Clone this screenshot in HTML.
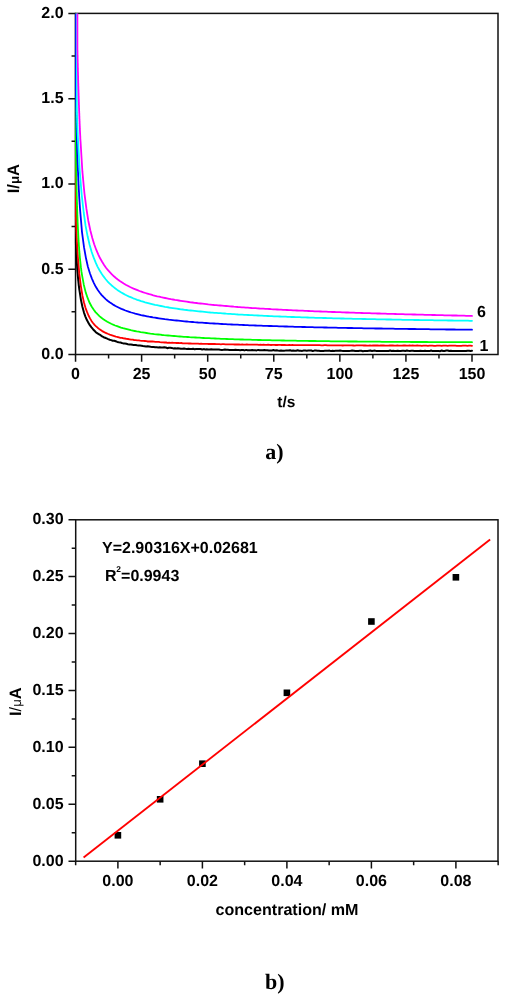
<!DOCTYPE html>
<html><head><meta charset="utf-8"><title>Figure</title>
<style>html,body{margin:0;padding:0;background:#fff;}body{width:506px;height:1000px;overflow:hidden;}svg{display:block;}</style>
</head><body>
<svg width="506" height="1000" viewBox="0 0 506 1000" style="text-rendering:geometricPrecision"><defs><clipPath id="ca"><rect x="74.55" y="13.40" width="423.45" height="341.10"/></clipPath></defs>
<rect x="75.55" y="13.4" width="422.45" height="341.1" fill="none" stroke="#111" stroke-width="1.5"/>
<path d="M68.35,354.50H75.55M71.55,311.86H75.55M68.35,269.23H75.55M71.55,226.59H75.55M68.35,183.95H75.55M71.55,141.31H75.55M68.35,98.67H75.55M71.55,56.04H75.55M68.35,13.40H75.55M75.55,354.50V361.70M108.59,354.50V358.50M141.62,354.50V361.70M174.66,354.50V358.50M207.70,354.50V361.70M240.74,354.50V358.50M273.77,354.50V361.70M306.81,354.50V358.50M339.85,354.50V361.70M372.89,354.50V358.50M405.93,354.50V361.70M438.96,354.50V358.50M472.00,354.50V361.70" stroke="#111" stroke-width="1.5" fill="none"/>
<g clip-path="url(#ca)"><path d="M75.8,8.4 L75.8,241.7 L75.8,242.2 L75.8,242.7 L75.9,243.2 L75.9,243.7 L75.9,244.3 L75.9,244.8 L76.0,245.3 L76.0,245.8 L76.0,246.3 L76.0,246.8 L76.0,247.3 L76.1,247.8 L76.1,248.3 L76.1,248.8 L76.1,249.3 L76.2,249.8 L76.2,250.3 L76.2,250.8 L76.2,251.2 L76.3,251.7 L76.3,252.2 L76.3,252.7 L76.3,253.2 L76.4,253.6 L76.4,254.1 L76.4,254.6 L76.4,255.0 L76.5,255.5 L76.5,256.0 L76.5,256.4 L76.5,256.9 L76.6,257.3 L76.6,257.8 L76.6,258.2 L76.6,258.7 L76.7,259.1 L76.7,259.6 L76.7,260.0 L76.7,260.5 L76.8,260.9 L76.8,261.3 L76.8,261.8 L76.8,262.2 L76.9,262.6 L76.9,263.0 L76.9,263.5 L77.0,263.9 L77.0,264.3 L77.0,264.7 L77.0,265.2 L77.1,265.6 L77.1,266.0 L77.1,266.4 L77.2,266.8 L77.2,267.2 L77.2,267.6 L77.2,268.0 L77.3,268.4 L77.3,268.8 L77.3,269.2 L77.4,269.6 L77.4,270.0 L77.4,270.4 L77.4,270.8 L77.5,271.2 L77.5,271.6 L77.5,272.0 L77.6,272.4 L77.6,272.7 L77.6,273.1 L77.7,273.5 L77.7,273.9 L77.7,274.3 L77.8,274.6 L77.8,275.0 L77.8,275.4 L77.9,275.7 L77.9,276.1 L77.9,276.5 L77.9,276.8 L78.0,277.2 L78.0,277.6 L78.0,277.9 L78.1,278.3 L78.1,278.6 L78.1,279.0 L78.2,279.3 L78.2,279.7 L78.2,280.0 L78.3,280.4 L78.3,280.7 L78.4,281.1 L78.4,281.4 L78.4,281.7 L78.5,282.1 L78.5,282.4 L78.5,282.8 L78.6,283.1 L78.6,283.4 L78.6,283.8 L78.7,284.1 L78.7,284.4 L78.7,284.7 L78.8,285.1 L78.8,285.4 L78.8,285.7 L78.9,286.0 L78.9,286.3 L79.0,286.7 L79.0,287.0 L79.0,287.3 L79.1,287.6 L79.1,287.9 L79.2,288.2 L79.2,288.5 L79.2,288.8 L79.3,289.1 L79.3,289.5 L79.3,289.8 L79.4,289.8 L80.9,299.6 L82.4,306.8 L83.9,312.3 L85.4,316.6 L86.9,320.1 L88.5,322.9 L90.0,325.4 L91.5,327.4 L93.0,329.2 L94.5,330.8 L96.0,332.4 L97.5,333.3 L99.1,334.3 L100.6,335.2 L102.1,336.4 L103.6,337.2 L105.1,337.8 L106.6,338.4 L108.2,339.1 L109.7,339.7 L111.2,340.1 L112.7,340.7 L114.2,340.8 L115.7,341.3 L117.3,341.9 L118.8,342.2 L120.3,342.4 L121.8,343.0 L123.3,343.4 L124.8,343.6 L126.4,343.8 L127.9,344.2 L129.4,344.4 L130.9,344.4 L132.4,344.7 L133.9,345.1 L135.4,345.0 L137.0,345.3 L138.5,345.5 L140.0,345.6 L141.5,345.7 L143.0,346.0 L144.5,346.2 L146.1,346.4 L147.6,346.2 L149.1,346.5 L150.6,346.8 L152.1,347.0 L153.6,347.0 L155.2,347.2 L156.7,347.3 L158.2,347.4 L159.7,347.3 L161.2,347.5 L162.7,347.5 L164.3,347.3 L165.8,347.5 L167.3,348.2 L168.8,347.8 L170.3,347.7 L171.8,348.0 L173.3,348.4 L174.9,348.2 L176.4,348.4 L177.9,348.3 L179.4,348.4 L180.9,348.7 L182.4,348.7 L184.0,348.6 L185.5,348.8 L187.0,348.9 L188.5,348.8 L190.0,348.9 L191.5,348.9 L193.1,348.8 L194.6,349.2 L196.1,349.0 L197.6,349.0 L199.1,348.9 L200.6,349.0 L202.2,349.5 L203.7,349.1 L205.2,349.4 L206.7,349.3 L208.2,349.5 L209.7,349.5 L211.2,349.3 L212.8,349.5 L214.3,349.5 L215.8,349.6 L217.3,349.6 L218.8,349.6 L220.3,349.8 L221.9,349.9 L223.4,349.8 L224.9,349.6 L226.4,349.8 L227.9,349.8 L229.4,349.9 L231.0,350.1 L232.5,349.9 L234.0,349.9 L235.5,349.8 L237.0,349.9 L238.5,349.9 L240.1,350.3 L241.6,350.1 L243.1,350.0 L244.6,350.4 L246.1,349.9 L247.6,350.3 L249.1,350.3 L250.7,350.2 L252.2,350.1 L253.7,350.2 L255.2,350.2 L256.7,350.4 L258.2,349.9 L259.8,350.2 L261.3,350.3 L262.8,350.2 L264.3,350.1 L265.8,350.3 L267.3,350.2 L268.9,350.5 L270.4,350.6 L271.9,350.4 L273.4,350.1 L274.9,350.4 L276.4,350.3 L278.0,350.6 L279.5,350.7 L281.0,350.5 L282.5,350.8 L284.0,350.7 L285.5,350.6 L287.0,350.4 L288.6,350.6 L290.1,350.3 L291.6,350.7 L293.1,350.6 L294.6,350.8 L296.1,350.7 L297.7,350.3 L299.2,350.7 L300.7,350.8 L302.2,350.9 L303.7,350.5 L305.2,350.5 L306.8,350.7 L308.3,350.5 L309.8,350.5 L311.3,350.5 L312.8,351.1 L314.3,350.6 L315.9,350.6 L317.4,350.7 L318.9,350.7 L320.4,350.9 L321.9,350.9 L323.4,350.9 L324.9,350.8 L326.5,350.8 L328.0,350.7 L329.5,350.6 L331.0,351.1 L332.5,350.7 L334.0,350.9 L335.6,350.8 L337.1,350.8 L338.6,350.8 L340.1,350.6 L341.6,350.8 L343.1,350.9 L344.7,351.0 L346.2,350.9 L347.7,351.0 L349.2,350.9 L350.7,350.8 L352.2,350.6 L353.8,350.8 L355.3,351.1 L356.8,350.9 L358.3,351.0 L359.8,350.8 L361.3,350.8 L362.8,351.2 L364.4,350.9 L365.9,351.1 L367.4,351.0 L368.9,350.8 L370.4,350.6 L371.9,350.9 L373.5,350.7 L375.0,350.6 L376.5,351.1 L378.0,351.0 L379.5,351.0 L381.0,350.9 L382.6,350.9 L384.1,351.0 L385.6,350.9 L387.1,350.9 L388.6,351.0 L390.1,350.5 L391.7,351.0 L393.2,350.8 L394.7,351.0 L396.2,351.1 L397.7,350.8 L399.2,351.0 L400.7,351.0 L402.3,350.8 L403.8,350.8 L405.3,350.9 L406.8,350.6 L408.3,350.8 L409.8,350.9 L411.4,350.8 L412.9,350.7 L414.4,350.9 L415.9,351.1 L417.4,351.1 L418.9,350.9 L420.5,350.8 L422.0,350.9 L423.5,350.9 L425.0,350.8 L426.5,350.9 L428.0,351.0 L429.6,351.1 L431.1,350.5 L432.6,351.1 L434.1,350.9 L435.6,351.1 L437.1,350.9 L438.6,351.0 L440.2,351.2 L441.7,350.5 L443.2,351.1 L444.7,350.9 L446.2,350.6 L447.7,350.5 L449.3,351.0 L450.8,350.8 L452.3,351.1 L453.8,350.9 L455.3,350.9 L456.8,351.0 L458.4,350.9 L459.9,351.0 L461.4,351.0 L462.9,350.9 L464.4,351.0 L465.9,351.0 L467.5,350.7 L469.0,350.8 L470.5,350.9 L472.0,350.8" stroke="#000" stroke-width="2.0" fill="none" stroke-linejoin="round" stroke-linecap="round"/><path d="M75.8,8.4 L75.8,215.8 L75.8,216.2 L75.8,216.6 L75.8,217.0 L75.9,217.4 L75.9,217.8 L75.9,218.2 L75.9,218.6 L75.9,219.0 L75.9,219.4 L75.9,219.8 L76.0,220.1 L76.0,220.5 L76.0,220.9 L76.0,221.3 L76.0,221.7 L76.0,222.1 L76.1,222.5 L76.1,222.8 L76.1,223.2 L76.1,223.6 L76.1,224.0 L76.1,224.4 L76.1,224.7 L76.2,225.1 L76.2,225.5 L76.2,225.9 L76.2,226.2 L76.2,226.6 L76.2,227.0 L76.3,227.3 L76.3,227.7 L76.3,228.1 L76.3,228.4 L76.3,228.8 L76.3,229.2 L76.3,229.5 L76.4,229.9 L76.4,230.2 L76.4,230.6 L76.4,230.9 L76.4,231.3 L76.4,231.7 L76.5,232.0 L76.5,232.4 L76.5,232.7 L76.5,233.1 L76.5,233.4 L76.5,233.8 L76.6,234.1 L76.6,234.5 L76.6,234.8 L76.6,235.1 L76.6,235.5 L76.6,235.8 L76.7,236.2 L76.7,236.5 L76.7,236.8 L76.7,237.2 L76.7,237.5 L76.7,237.9 L76.8,238.2 L76.8,238.5 L76.8,238.9 L76.8,239.2 L76.8,239.5 L76.8,239.8 L76.9,240.2 L76.9,240.5 L76.9,240.8 L76.9,241.2 L76.9,241.5 L76.9,241.8 L77.0,242.1 L77.0,242.4 L77.0,242.8 L77.0,243.1 L77.0,243.4 L77.1,243.7 L77.1,244.0 L77.1,244.3 L77.1,244.7 L77.1,245.0 L77.1,245.3 L77.2,245.6 L77.2,245.9 L77.2,246.2 L77.2,246.5 L77.2,246.8 L77.2,247.1 L77.3,247.4 L77.3,247.8 L77.3,248.1 L77.3,248.4 L77.3,248.7 L77.4,249.0 L77.4,249.3 L77.4,249.6 L77.4,249.9 L77.4,250.2 L77.5,250.5 L77.5,250.7 L77.5,251.0 L77.5,251.3 L77.5,251.6 L77.5,251.9 L77.6,252.2 L77.6,252.5 L77.6,252.8 L77.6,253.1 L77.6,253.4 L77.7,253.7 L77.7,253.9 L77.7,254.2 L77.7,254.5 L77.7,254.8 L77.8,255.1 L77.8,255.4 L77.8,255.6 L77.8,255.9 L77.8,256.1 L79.3,273.9 L80.9,286.3 L82.4,295.4 L83.9,302.3 L85.4,307.6 L87.0,311.9 L88.5,315.5 L90.0,318.4 L91.5,320.9 L93.0,323.0 L94.6,324.8 L96.1,326.3 L97.6,327.7 L99.1,328.9 L100.7,330.0 L102.2,331.1 L103.7,331.9 L105.2,332.7 L106.7,333.3 L108.3,334.0 L109.8,334.6 L111.3,335.1 L112.8,335.6 L114.3,336.1 L115.9,336.6 L117.4,337.0 L118.9,337.3 L120.4,337.8 L122.0,337.8 L123.5,338.3 L125.0,338.5 L126.5,338.8 L128.0,339.0 L129.6,339.3 L131.1,339.6 L132.6,339.7 L134.1,340.0 L135.7,340.1 L137.2,340.3 L138.7,340.3 L140.2,340.6 L141.7,340.8 L143.3,340.9 L144.8,341.0 L146.3,341.2 L147.8,341.5 L149.4,341.4 L150.9,341.5 L152.4,341.5 L153.9,341.7 L155.4,341.9 L157.0,341.9 L158.5,341.9 L160.0,342.2 L161.5,342.3 L163.0,342.4 L164.6,342.5 L166.1,342.5 L167.6,342.8 L169.1,342.6 L170.7,342.8 L172.2,342.7 L173.7,342.8 L175.2,342.8 L176.7,343.0 L178.3,343.0 L179.8,343.1 L181.3,343.0 L182.8,343.3 L184.4,343.3 L185.9,343.4 L187.4,343.4 L188.9,343.5 L190.4,343.5 L192.0,343.6 L193.5,343.7 L195.0,343.6 L196.5,343.7 L198.1,343.6 L199.6,343.9 L201.1,343.7 L202.6,343.8 L204.1,343.9 L205.7,343.8 L207.2,343.9 L208.7,344.0 L210.2,344.0 L211.8,344.0 L213.3,344.0 L214.8,344.0 L216.3,344.1 L217.8,344.2 L219.4,344.2 L220.9,344.3 L222.4,344.2 L223.9,344.2 L225.4,344.3 L227.0,344.3 L228.5,344.4 L230.0,344.4 L231.5,344.4 L233.1,344.4 L234.6,344.5 L236.1,344.4 L237.6,344.5 L239.1,344.5 L240.7,344.6 L242.2,344.5 L243.7,344.6 L245.2,344.6 L246.8,344.5 L248.3,344.7 L249.8,344.7 L251.3,344.7 L252.8,344.6 L254.4,344.7 L255.9,344.7 L257.4,344.6 L258.9,344.8 L260.5,344.7 L262.0,344.8 L263.5,344.7 L265.0,344.8 L266.5,344.8 L268.1,344.7 L269.6,344.9 L271.1,345.0 L272.6,344.9 L274.1,344.9 L275.7,345.0 L277.2,345.0 L278.7,344.9 L280.2,344.8 L281.8,345.0 L283.3,345.0 L284.8,345.0 L286.3,345.1 L287.8,345.1 L289.4,344.9 L290.9,345.1 L292.4,345.0 L293.9,345.1 L295.5,345.1 L297.0,345.2 L298.5,345.1 L300.0,345.1 L301.5,345.1 L303.1,345.1 L304.6,345.1 L306.1,345.2 L307.6,345.1 L309.2,345.2 L310.7,345.1 L312.2,345.1 L313.7,345.2 L315.2,345.1 L316.8,345.2 L318.3,345.2 L319.8,345.2 L321.3,345.3 L322.9,345.4 L324.4,345.2 L325.9,345.1 L327.4,345.3 L328.9,345.3 L330.5,345.4 L332.0,345.3 L333.5,345.3 L335.0,345.4 L336.5,345.4 L338.1,345.3 L339.6,345.4 L341.1,345.4 L342.6,345.5 L344.2,345.3 L345.7,345.3 L347.2,345.4 L348.7,345.4 L350.2,345.4 L351.8,345.4 L353.3,345.5 L354.8,345.6 L356.3,345.4 L357.9,345.4 L359.4,345.4 L360.9,345.3 L362.4,345.4 L363.9,345.5 L365.5,345.5 L367.0,345.6 L368.5,345.6 L370.0,345.5 L371.6,345.6 L373.1,345.4 L374.6,345.5 L376.1,345.4 L377.6,345.5 L379.2,345.7 L380.7,345.5 L382.2,345.5 L383.7,345.5 L385.3,345.6 L386.8,345.6 L388.3,345.6 L389.8,345.5 L391.3,345.5 L392.9,345.5 L394.4,345.6 L395.9,345.7 L397.4,345.5 L398.9,345.6 L400.5,345.6 L402.0,345.6 L403.5,345.5 L405.0,345.5 L406.6,345.7 L408.1,345.6 L409.6,345.5 L411.1,345.7 L412.6,345.5 L414.2,345.6 L415.7,345.6 L417.2,345.5 L418.7,345.7 L420.3,345.6 L421.8,345.8 L423.3,345.7 L424.8,345.7 L426.3,345.7 L427.9,345.8 L429.4,345.6 L430.9,345.6 L432.4,345.6 L434.0,345.8 L435.5,345.8 L437.0,345.7 L438.5,345.7 L440.0,345.6 L441.6,345.8 L443.1,345.7 L444.6,345.7 L446.1,345.7 L447.6,345.8 L449.2,345.7 L450.7,345.7 L452.2,345.7 L453.7,345.7 L455.3,345.7 L456.8,345.8 L458.3,345.8 L459.8,345.8 L461.3,345.8 L462.9,345.7 L464.4,345.6 L465.9,345.7 L467.4,345.8 L469.0,345.7 L470.5,345.6 L472.0,345.9" stroke="#f00" stroke-width="1.8" fill="none" stroke-linejoin="round" stroke-linecap="round"/><path d="M75.8,8.4 L75.8,147.1 L75.8,148.7 L75.8,150.4 L75.9,152.0 L75.9,153.7 L75.9,155.3 L75.9,156.9 L76.0,158.5 L76.0,160.0 L76.0,161.6 L76.0,163.1 L76.1,164.7 L76.1,166.2 L76.1,167.7 L76.2,169.2 L76.2,170.7 L76.2,172.2 L76.2,173.6 L76.3,175.1 L76.3,176.5 L76.3,177.9 L76.4,179.4 L76.4,180.8 L76.4,182.2 L76.4,183.5 L76.5,184.9 L76.5,186.3 L76.5,187.6 L76.6,188.9 L76.6,190.3 L76.6,191.6 L76.7,192.9 L76.7,194.2 L76.7,195.4 L76.8,196.7 L76.8,198.0 L76.8,199.2 L76.9,200.4 L76.9,201.7 L77.0,202.9 L77.0,204.1 L77.0,205.3 L77.1,206.5 L77.1,207.7 L77.1,208.8 L77.2,210.0 L77.2,211.1 L77.3,212.3 L77.3,213.4 L77.3,214.5 L77.4,215.6 L77.4,216.7 L77.5,217.8 L77.5,218.9 L77.6,220.0 L77.6,221.0 L77.6,222.1 L77.7,223.1 L77.7,224.2 L77.8,225.2 L77.8,226.2 L77.9,227.3 L77.9,228.3 L78.0,229.3 L78.0,230.2 L78.1,231.2 L78.1,232.2 L78.2,233.2 L78.2,234.1 L78.3,235.1 L78.3,236.0 L78.4,236.9 L78.4,237.9 L78.5,238.8 L78.5,239.7 L78.6,240.6 L78.6,241.5 L78.7,242.4 L78.8,243.3 L78.8,244.1 L78.9,245.0 L78.9,245.8 L79.0,246.7 L79.1,247.5 L79.1,248.4 L79.2,249.2 L79.2,250.0 L79.3,250.9 L79.4,251.7 L79.4,252.5 L79.5,253.3 L79.6,254.0 L79.6,254.8 L79.7,255.6 L79.8,256.4 L79.8,257.1 L79.9,257.9 L80.0,258.7 L80.1,259.4 L80.1,260.1 L80.2,260.9 L80.3,261.6 L80.4,262.3 L80.4,263.0 L80.5,263.7 L80.6,264.4 L80.7,265.1 L80.7,265.8 L80.8,266.5 L80.9,267.2 L81.0,267.9 L81.1,268.5 L81.2,269.2 L81.2,269.9 L81.3,270.5 L81.4,271.2 L81.5,271.8 L81.6,272.4 L81.7,273.1 L81.8,273.7 L81.8,273.8 L83.8,284.7 L85.7,292.4 L87.7,298.2 L89.6,302.8 L91.6,306.5 L93.6,309.5 L95.5,312.1 L97.5,314.2 L99.4,316.1 L101.4,317.8 L103.4,319.3 L105.3,320.6 L107.3,321.8 L109.2,322.8 L111.2,323.8 L113.2,324.7 L115.1,325.5 L117.1,326.2 L119.0,326.9 L121.0,327.6 L123.0,328.2 L124.9,328.7 L126.9,329.2 L128.9,329.7 L130.8,330.2 L132.8,330.6 L134.7,331.0 L136.7,331.4 L138.7,331.7 L140.6,332.1 L142.6,332.4 L144.5,332.7 L146.5,333.0 L148.5,333.3 L150.4,333.6 L152.4,333.8 L154.3,334.1 L156.3,334.3 L158.3,334.5 L160.2,334.7 L162.2,335.0 L164.1,335.2 L166.1,335.3 L168.1,335.5 L170.0,335.7 L172.0,335.9 L174.0,336.0 L175.9,336.2 L177.9,336.4 L179.8,336.5 L181.8,336.6 L183.8,336.8 L185.7,336.9 L187.7,337.0 L189.6,337.2 L191.6,337.3 L193.6,337.4 L195.5,337.5 L197.5,337.6 L199.4,337.7 L201.4,337.9 L203.4,338.0 L205.3,338.1 L207.3,338.2 L209.2,338.2 L211.2,338.3 L213.2,338.4 L215.1,338.5 L217.1,338.6 L219.0,338.7 L221.0,338.8 L223.0,338.8 L224.9,338.9 L226.9,339.0 L228.9,339.1 L230.8,339.1 L232.8,339.2 L234.7,339.3 L236.7,339.3 L238.7,339.4 L240.6,339.5 L242.6,339.5 L244.5,339.6 L246.5,339.6 L248.5,339.7 L250.4,339.7 L252.4,339.8 L254.3,339.9 L256.3,339.9 L258.3,340.0 L260.2,340.0 L262.2,340.1 L264.1,340.1 L266.1,340.1 L268.1,340.2 L270.0,340.2 L272.0,340.3 L274.0,340.3 L275.9,340.4 L277.9,340.4 L279.8,340.4 L281.8,340.5 L283.8,340.5 L285.7,340.6 L287.7,340.6 L289.6,340.6 L291.6,340.7 L293.6,340.7 L295.5,340.7 L297.5,340.8 L299.4,340.8 L301.4,340.8 L303.4,340.9 L305.3,340.9 L307.3,340.9 L309.2,341.0 L311.2,341.0 L313.2,341.0 L315.1,341.0 L317.1,341.1 L319.1,341.1 L321.0,341.1 L323.0,341.2 L324.9,341.2 L326.9,341.2 L328.9,341.2 L330.8,341.3 L332.8,341.3 L334.7,341.3 L336.7,341.3 L338.7,341.4 L340.6,341.4 L342.6,341.4 L344.5,341.4 L346.5,341.4 L348.5,341.5 L350.4,341.5 L352.4,341.5 L354.3,341.5 L356.3,341.5 L358.3,341.6 L360.2,341.6 L362.2,341.6 L364.2,341.6 L366.1,341.6 L368.1,341.6 L370.0,341.7 L372.0,341.7 L374.0,341.7 L375.9,341.7 L377.9,341.7 L379.8,341.7 L381.8,341.8 L383.8,341.8 L385.7,341.8 L387.7,341.8 L389.6,341.8 L391.6,341.8 L393.6,341.8 L395.5,341.9 L397.5,341.9 L399.4,341.9 L401.4,341.9 L403.4,341.9 L405.3,341.9 L407.3,341.9 L409.3,341.9 L411.2,342.0 L413.2,342.0 L415.1,342.0 L417.1,342.0 L419.1,342.0 L421.0,342.0 L423.0,342.0 L424.9,342.0 L426.9,342.0 L428.9,342.1 L430.8,342.1 L432.8,342.1 L434.7,342.1 L436.7,342.1 L438.7,342.1 L440.6,342.1 L442.6,342.1 L444.5,342.1 L446.5,342.1 L448.5,342.1 L450.4,342.1 L452.4,342.2 L454.4,342.2 L456.3,342.2 L458.3,342.2 L460.2,342.2 L462.2,342.2 L464.2,342.2 L466.1,342.2 L468.1,342.2 L470.0,342.2 L472.0,342.2" stroke="#0f0" stroke-width="1.8" fill="none" stroke-linejoin="round" stroke-linecap="round"/><path d="M75.8,8.4 L75.8,87.2 L75.8,88.6 L75.8,90.0 L75.9,91.4 L75.9,92.8 L75.9,94.2 L75.9,95.6 L76.0,97.0 L76.0,98.3 L76.0,99.7 L76.0,101.1 L76.1,102.4 L76.1,103.7 L76.1,105.1 L76.1,106.4 L76.2,107.7 L76.2,109.0 L76.2,110.3 L76.3,111.6 L76.3,112.9 L76.3,114.1 L76.3,115.4 L76.4,116.7 L76.4,117.9 L76.4,119.2 L76.4,120.4 L76.5,121.6 L76.5,122.9 L76.5,124.1 L76.6,125.3 L76.6,126.5 L76.6,127.7 L76.6,128.9 L76.7,130.1 L76.7,131.2 L76.7,132.4 L76.8,133.6 L76.8,134.7 L76.8,135.9 L76.9,137.0 L76.9,138.1 L76.9,139.3 L77.0,140.4 L77.0,141.5 L77.0,142.6 L77.0,143.7 L77.1,144.8 L77.1,145.9 L77.1,147.0 L77.2,148.1 L77.2,149.1 L77.2,150.2 L77.3,151.3 L77.3,152.3 L77.3,153.3 L77.4,154.4 L77.4,155.4 L77.4,156.4 L77.5,157.5 L77.5,158.5 L77.5,159.5 L77.6,160.5 L77.6,161.5 L77.7,162.5 L77.7,163.5 L77.7,164.5 L77.8,165.4 L77.8,166.4 L77.8,167.4 L77.9,168.3 L77.9,169.3 L77.9,170.2 L78.0,171.2 L78.0,172.1 L78.1,173.0 L78.1,174.0 L78.1,174.9 L78.2,175.8 L78.2,176.7 L78.3,177.6 L78.3,178.5 L78.3,179.4 L78.4,180.3 L78.4,181.2 L78.5,182.0 L78.5,182.9 L78.5,183.8 L78.6,184.6 L78.6,185.5 L78.7,186.4 L78.7,187.2 L78.7,188.0 L78.8,188.9 L78.8,189.7 L78.9,190.5 L78.9,191.4 L79.0,192.2 L79.0,193.0 L79.1,193.8 L79.1,194.6 L79.1,195.4 L79.2,196.2 L79.2,197.0 L79.3,197.8 L79.3,198.6 L79.4,199.3 L79.4,200.1 L79.5,200.9 L79.5,201.6 L79.6,202.4 L79.6,203.1 L79.7,203.9 L79.7,204.6 L79.8,205.4 L79.8,206.1 L79.9,206.9 L79.9,207.6 L80.0,208.3 L80.0,209.0 L80.1,209.7 L80.1,209.9 L82.0,232.1 L84.0,247.2 L86.0,258.3 L87.9,266.7 L89.9,273.3 L91.9,278.6 L93.9,283.1 L95.8,286.8 L97.8,290.0 L99.8,292.7 L101.7,295.1 L103.7,297.2 L105.7,299.1 L107.6,300.7 L109.6,302.3 L111.6,303.6 L113.6,304.9 L115.5,306.0 L117.5,307.0 L119.5,308.0 L121.4,308.9 L123.4,309.7 L125.4,310.5 L127.3,311.2 L129.3,311.8 L131.3,312.5 L133.2,313.0 L135.2,313.6 L137.2,314.1 L139.2,314.6 L141.1,315.1 L143.1,315.5 L145.1,315.9 L147.0,316.3 L149.0,316.7 L151.0,317.0 L152.9,317.4 L154.9,317.7 L156.9,318.0 L158.9,318.3 L160.8,318.6 L162.8,318.9 L164.8,319.2 L166.7,319.4 L168.7,319.7 L170.7,319.9 L172.6,320.1 L174.6,320.3 L176.6,320.5 L178.5,320.7 L180.5,320.9 L182.5,321.1 L184.5,321.3 L186.4,321.5 L188.4,321.7 L190.4,321.8 L192.3,322.0 L194.3,322.2 L196.3,322.3 L198.2,322.5 L200.2,322.6 L202.2,322.7 L204.1,322.9 L206.1,323.0 L208.1,323.1 L210.1,323.3 L212.0,323.4 L214.0,323.5 L216.0,323.6 L217.9,323.7 L219.9,323.9 L221.9,324.0 L223.8,324.1 L225.8,324.2 L227.8,324.3 L229.8,324.4 L231.7,324.5 L233.7,324.6 L235.7,324.7 L237.6,324.7 L239.6,324.8 L241.6,324.9 L243.5,325.0 L245.5,325.1 L247.5,325.2 L249.4,325.3 L251.4,325.3 L253.4,325.4 L255.4,325.5 L257.3,325.6 L259.3,325.6 L261.3,325.7 L263.2,325.8 L265.2,325.8 L267.2,325.9 L269.1,326.0 L271.1,326.0 L273.1,326.1 L275.1,326.2 L277.0,326.2 L279.0,326.3 L281.0,326.4 L282.9,326.4 L284.9,326.5 L286.9,326.5 L288.8,326.6 L290.8,326.6 L292.8,326.7 L294.7,326.8 L296.7,326.8 L298.7,326.9 L300.7,326.9 L302.6,327.0 L304.6,327.0 L306.6,327.1 L308.5,327.1 L310.5,327.2 L312.5,327.2 L314.4,327.3 L316.4,327.3 L318.4,327.3 L320.3,327.4 L322.3,327.4 L324.3,327.5 L326.3,327.5 L328.2,327.6 L330.2,327.6 L332.2,327.6 L334.1,327.7 L336.1,327.7 L338.1,327.8 L340.0,327.8 L342.0,327.8 L344.0,327.9 L346.0,327.9 L347.9,328.0 L349.9,328.0 L351.9,328.0 L353.8,328.1 L355.8,328.1 L357.8,328.1 L359.7,328.2 L361.7,328.2 L363.7,328.3 L365.6,328.3 L367.6,328.3 L369.6,328.4 L371.6,328.4 L373.5,328.4 L375.5,328.5 L377.5,328.5 L379.4,328.5 L381.4,328.5 L383.4,328.6 L385.3,328.6 L387.3,328.6 L389.3,328.7 L391.3,328.7 L393.2,328.7 L395.2,328.8 L397.2,328.8 L399.1,328.8 L401.1,328.8 L403.1,328.9 L405.0,328.9 L407.0,328.9 L409.0,329.0 L410.9,329.0 L412.9,329.0 L414.9,329.0 L416.9,329.1 L418.8,329.1 L420.8,329.1 L422.8,329.2 L424.7,329.2 L426.7,329.2 L428.7,329.2 L430.6,329.3 L432.6,329.3 L434.6,329.3 L436.5,329.3 L438.5,329.4 L440.5,329.4 L442.5,329.4 L444.4,329.4 L446.4,329.5 L448.4,329.5 L450.3,329.5 L452.3,329.5 L454.3,329.5 L456.2,329.6 L458.2,329.6 L460.2,329.6 L462.2,329.6 L464.1,329.7 L466.1,329.7 L468.1,329.7 L470.0,329.7 L472.0,329.7" stroke="#00f" stroke-width="1.8" fill="none" stroke-linejoin="round" stroke-linecap="round"/><path d="M76.8,8.4 L76.8,110.6 L76.8,110.8 L76.8,111.0 L76.8,111.2 L76.8,111.5 L76.8,111.7 L76.8,111.9 L76.9,112.1 L76.9,112.3 L76.9,112.5 L76.9,112.7 L76.9,112.9 L76.9,113.1 L76.9,113.3 L76.9,113.5 L76.9,113.7 L76.9,113.9 L76.9,114.1 L76.9,114.3 L76.9,114.5 L76.9,114.7 L77.0,114.9 L77.0,115.2 L77.0,115.4 L77.0,115.6 L77.0,115.8 L77.0,116.0 L77.0,116.2 L77.0,116.4 L77.0,116.6 L77.0,116.8 L77.0,117.0 L77.0,117.2 L77.0,117.4 L77.0,117.6 L77.1,117.8 L77.1,118.0 L77.1,118.2 L77.1,118.4 L77.1,118.6 L77.1,118.8 L77.1,119.0 L77.1,119.2 L77.1,119.4 L77.1,119.6 L77.1,119.8 L77.1,120.0 L77.1,120.2 L77.2,120.4 L77.2,120.6 L77.2,120.8 L77.2,121.0 L77.2,121.2 L77.2,121.4 L77.2,121.6 L77.2,121.8 L77.2,122.0 L77.2,122.2 L77.2,122.4 L77.2,122.6 L77.2,122.8 L77.3,123.0 L77.3,123.2 L77.3,123.3 L77.3,123.5 L77.3,123.7 L77.3,123.9 L77.3,124.1 L77.3,124.3 L77.3,124.5 L77.3,124.7 L77.3,124.9 L77.3,125.1 L77.3,125.3 L77.4,125.5 L77.4,125.7 L77.4,125.9 L77.4,126.1 L77.4,126.3 L77.4,126.5 L77.4,126.6 L77.4,126.8 L77.4,127.0 L77.4,127.2 L77.4,127.4 L77.4,127.6 L77.4,127.8 L77.5,128.0 L77.5,128.2 L77.5,128.4 L77.5,128.6 L77.5,128.8 L77.5,128.9 L77.5,129.1 L77.5,129.3 L77.5,129.5 L77.5,129.7 L77.5,129.9 L77.5,130.1 L77.6,130.3 L77.6,130.5 L77.6,130.7 L77.6,130.8 L77.6,131.0 L77.6,131.2 L77.6,131.4 L77.6,131.6 L77.6,131.8 L77.6,132.0 L77.6,132.2 L77.6,132.3 L77.6,132.5 L77.7,132.7 L77.7,132.9 L77.7,133.1 L77.7,133.3 L77.7,133.5 L77.7,133.7 L77.7,133.8 L77.7,134.0 L77.7,134.3 L79.7,170.5 L81.7,194.9 L83.7,212.5 L85.6,225.9 L87.6,236.3 L89.6,244.7 L91.6,251.7 L93.6,257.4 L95.6,262.4 L97.5,266.6 L99.5,270.3 L101.5,273.5 L103.5,276.4 L105.5,279.0 L107.4,281.3 L109.4,283.3 L111.4,285.2 L113.4,286.9 L115.4,288.5 L117.3,289.9 L119.3,291.2 L121.3,292.5 L123.3,293.6 L125.3,294.7 L127.3,295.7 L129.2,296.6 L131.2,297.4 L133.2,298.3 L135.2,299.0 L137.2,299.8 L139.1,300.4 L141.1,301.1 L143.1,301.7 L145.1,302.3 L147.1,302.8 L149.1,303.3 L151.0,303.8 L153.0,304.3 L155.0,304.8 L157.0,305.2 L159.0,305.6 L160.9,306.0 L162.9,306.4 L164.9,306.8 L166.9,307.1 L168.9,307.5 L170.8,307.8 L172.8,308.1 L174.8,308.4 L176.8,308.7 L178.8,309.0 L180.8,309.3 L182.7,309.5 L184.7,309.8 L186.7,310.0 L188.7,310.3 L190.7,310.5 L192.6,310.7 L194.6,310.9 L196.6,311.1 L198.6,311.3 L200.6,311.5 L202.5,311.7 L204.5,311.9 L206.5,312.1 L208.5,312.3 L210.5,312.5 L212.5,312.6 L214.4,312.8 L216.4,312.9 L218.4,313.1 L220.4,313.2 L222.4,313.4 L224.3,313.5 L226.3,313.7 L228.3,313.8 L230.3,313.9 L232.3,314.1 L234.2,314.2 L236.2,314.3 L238.2,314.5 L240.2,314.6 L242.2,314.7 L244.2,314.8 L246.1,314.9 L248.1,315.0 L250.1,315.1 L252.1,315.2 L254.1,315.3 L256.0,315.4 L258.0,315.5 L260.0,315.6 L262.0,315.7 L264.0,315.8 L265.9,315.9 L267.9,316.0 L269.9,316.1 L271.9,316.2 L273.9,316.3 L275.9,316.3 L277.8,316.4 L279.8,316.5 L281.8,316.6 L283.8,316.7 L285.8,316.7 L287.7,316.8 L289.7,316.9 L291.7,317.0 L293.7,317.0 L295.7,317.1 L297.6,317.2 L299.6,317.2 L301.6,317.3 L303.6,317.4 L305.6,317.4 L307.6,317.5 L309.5,317.6 L311.5,317.6 L313.5,317.7 L315.5,317.8 L317.5,317.8 L319.4,317.9 L321.4,317.9 L323.4,318.0 L325.4,318.0 L327.4,318.1 L329.3,318.2 L331.3,318.2 L333.3,318.3 L335.3,318.3 L337.3,318.4 L339.3,318.4 L341.2,318.5 L343.2,318.5 L345.2,318.6 L347.2,318.6 L349.2,318.7 L351.1,318.7 L353.1,318.8 L355.1,318.8 L357.1,318.8 L359.1,318.9 L361.0,318.9 L363.0,319.0 L365.0,319.0 L367.0,319.1 L369.0,319.1 L371.0,319.1 L372.9,319.2 L374.9,319.2 L376.9,319.3 L378.9,319.3 L380.9,319.4 L382.8,319.4 L384.8,319.4 L386.8,319.5 L388.8,319.5 L390.8,319.5 L392.7,319.6 L394.7,319.6 L396.7,319.7 L398.7,319.7 L400.7,319.7 L402.7,319.8 L404.6,319.8 L406.6,319.8 L408.6,319.9 L410.6,319.9 L412.6,319.9 L414.5,320.0 L416.5,320.0 L418.5,320.0 L420.5,320.1 L422.5,320.1 L424.4,320.1 L426.4,320.2 L428.4,320.2 L430.4,320.2 L432.4,320.2 L434.4,320.3 L436.3,320.3 L438.3,320.3 L440.3,320.4 L442.3,320.4 L444.3,320.4 L446.2,320.4 L448.2,320.5 L450.2,320.5 L452.2,320.5 L454.2,320.6 L456.1,320.6 L458.1,320.6 L460.1,320.6 L462.1,320.7 L464.1,320.7 L466.1,320.7 L468.0,320.7 L470.0,320.8 L472.0,320.8" stroke="#0ff" stroke-width="1.8" fill="none" stroke-linejoin="round" stroke-linecap="round"/><path d="M77.4,8.4 L77.4,48.0 L77.4,48.9 L77.4,49.9 L77.5,50.8 L77.5,51.7 L77.5,52.7 L77.5,53.6 L77.5,54.5 L77.6,55.5 L77.6,56.4 L77.6,57.3 L77.6,58.2 L77.6,59.1 L77.7,60.1 L77.7,61.0 L77.7,61.9 L77.7,62.8 L77.8,63.7 L77.8,64.6 L77.8,65.4 L77.8,66.3 L77.8,67.2 L77.9,68.1 L77.9,69.0 L77.9,69.9 L77.9,70.7 L77.9,71.6 L78.0,72.5 L78.0,73.3 L78.0,74.2 L78.0,75.1 L78.1,75.9 L78.1,76.8 L78.1,77.6 L78.1,78.5 L78.1,79.3 L78.2,80.1 L78.2,81.0 L78.2,81.8 L78.2,82.6 L78.3,83.5 L78.3,84.3 L78.3,85.1 L78.3,85.9 L78.4,86.8 L78.4,87.6 L78.4,88.4 L78.4,89.2 L78.5,90.0 L78.5,90.8 L78.5,91.6 L78.5,92.4 L78.6,93.2 L78.6,94.0 L78.6,94.8 L78.6,95.5 L78.7,96.3 L78.7,97.1 L78.7,97.9 L78.7,98.7 L78.8,99.4 L78.8,100.2 L78.8,101.0 L78.8,101.7 L78.9,102.5 L78.9,103.3 L78.9,104.0 L78.9,104.8 L79.0,105.5 L79.0,106.3 L79.0,107.0 L79.0,107.7 L79.1,108.5 L79.1,109.2 L79.1,110.0 L79.1,110.7 L79.2,111.4 L79.2,112.1 L79.2,112.9 L79.3,113.6 L79.3,114.3 L79.3,115.0 L79.3,115.7 L79.4,116.5 L79.4,117.2 L79.4,117.9 L79.4,118.6 L79.5,119.3 L79.5,120.0 L79.5,120.7 L79.6,121.4 L79.6,122.1 L79.6,122.8 L79.6,123.4 L79.7,124.1 L79.7,124.8 L79.7,125.5 L79.8,126.2 L79.8,126.8 L79.8,127.5 L79.9,128.2 L79.9,128.8 L79.9,129.5 L79.9,130.2 L80.0,130.8 L80.0,131.5 L80.0,132.2 L80.1,132.8 L80.1,133.5 L80.1,134.1 L80.2,134.8 L80.2,135.4 L80.2,136.0 L80.3,136.7 L80.3,137.3 L80.3,138.0 L80.3,138.6 L80.4,139.2 L80.4,139.9 L80.4,140.5 L80.5,140.7 L82.4,171.7 L84.4,193.1 L86.4,208.7 L88.3,220.7 L90.3,230.2 L92.3,237.9 L94.2,244.3 L96.2,249.7 L98.2,254.3 L100.1,258.3 L102.1,261.8 L104.1,264.9 L106.0,267.7 L108.0,270.2 L110.0,272.4 L111.9,274.4 L113.9,276.3 L115.9,278.0 L117.8,279.5 L119.8,281.0 L121.8,282.3 L123.7,283.5 L125.7,284.7 L127.7,285.8 L129.6,286.8 L131.6,287.7 L133.6,288.6 L135.5,289.4 L137.5,290.2 L139.5,291.0 L141.4,291.7 L143.4,292.4 L145.4,293.0 L147.4,293.6 L149.3,294.2 L151.3,294.7 L153.3,295.3 L155.2,295.8 L157.2,296.3 L159.2,296.7 L161.1,297.2 L163.1,297.6 L165.1,298.0 L167.0,298.4 L169.0,298.8 L171.0,299.2 L172.9,299.5 L174.9,299.9 L176.9,300.2 L178.8,300.5 L180.8,300.8 L182.8,301.1 L184.7,301.4 L186.7,301.7 L188.7,302.0 L190.6,302.3 L192.6,302.5 L194.6,302.8 L196.5,303.0 L198.5,303.3 L200.5,303.5 L202.4,303.7 L204.4,303.9 L206.4,304.1 L208.3,304.4 L210.3,304.6 L212.3,304.8 L214.2,305.0 L216.2,305.1 L218.2,305.3 L220.2,305.5 L222.1,305.7 L224.1,305.9 L226.1,306.0 L228.0,306.2 L230.0,306.4 L232.0,306.5 L233.9,306.7 L235.9,306.8 L237.9,307.0 L239.8,307.1 L241.8,307.3 L243.8,307.4 L245.7,307.6 L247.7,307.7 L249.7,307.8 L251.6,308.0 L253.6,308.1 L255.6,308.2 L257.5,308.3 L259.5,308.5 L261.5,308.6 L263.4,308.7 L265.4,308.8 L267.4,308.9 L269.3,309.0 L271.3,309.2 L273.3,309.3 L275.2,309.4 L277.2,309.5 L279.2,309.6 L281.1,309.7 L283.1,309.8 L285.1,309.9 L287.0,310.0 L289.0,310.1 L291.0,310.2 L293.0,310.3 L294.9,310.4 L296.9,310.5 L298.9,310.6 L300.8,310.7 L302.8,310.7 L304.8,310.8 L306.7,310.9 L308.7,311.0 L310.7,311.1 L312.6,311.2 L314.6,311.3 L316.6,311.3 L318.5,311.4 L320.5,311.5 L322.5,311.6 L324.4,311.6 L326.4,311.7 L328.4,311.8 L330.3,311.9 L332.3,312.0 L334.3,312.0 L336.2,312.1 L338.2,312.2 L340.2,312.2 L342.1,312.3 L344.1,312.4 L346.1,312.5 L348.0,312.5 L350.0,312.6 L352.0,312.7 L353.9,312.7 L355.9,312.8 L357.9,312.9 L359.8,312.9 L361.8,313.0 L363.8,313.1 L365.8,313.1 L367.7,313.2 L369.7,313.2 L371.7,313.3 L373.6,313.4 L375.6,313.4 L377.6,313.5 L379.5,313.5 L381.5,313.6 L383.5,313.7 L385.4,313.7 L387.4,313.8 L389.4,313.8 L391.3,313.9 L393.3,313.9 L395.3,314.0 L397.2,314.1 L399.2,314.1 L401.2,314.2 L403.1,314.2 L405.1,314.3 L407.1,314.3 L409.0,314.4 L411.0,314.4 L413.0,314.5 L414.9,314.5 L416.9,314.6 L418.9,314.6 L420.8,314.7 L422.8,314.7 L424.8,314.8 L426.7,314.8 L428.7,314.9 L430.7,314.9 L432.6,315.0 L434.6,315.0 L436.6,315.1 L438.6,315.1 L440.5,315.2 L442.5,315.2 L444.5,315.3 L446.4,315.3 L448.4,315.4 L450.4,315.4 L452.3,315.5 L454.3,315.5 L456.3,315.5 L458.2,315.6 L460.2,315.6 L462.2,315.7 L464.1,315.7 L466.1,315.8 L468.1,315.8 L470.0,315.9 L472.0,315.9" stroke="#f0f" stroke-width="1.8" fill="none" stroke-linejoin="round" stroke-linecap="round"/></g>
<text x="63.60" y="359.00" font-family='"Liberation Sans", Arial, sans-serif' font-weight="bold" font-size="16.0" text-anchor="end">0.0</text>
<text x="63.60" y="273.73" font-family='"Liberation Sans", Arial, sans-serif' font-weight="bold" font-size="16.0" text-anchor="end">0.5</text>
<text x="63.60" y="188.45" font-family='"Liberation Sans", Arial, sans-serif' font-weight="bold" font-size="16.0" text-anchor="end">1.0</text>
<text x="63.60" y="103.17" font-family='"Liberation Sans", Arial, sans-serif' font-weight="bold" font-size="16.0" text-anchor="end">1.5</text>
<text x="63.60" y="17.90" font-family='"Liberation Sans", Arial, sans-serif' font-weight="bold" font-size="16.0" text-anchor="end">2.0</text>
<text x="75.55" y="378.60" font-family='"Liberation Sans", Arial, sans-serif' font-weight="bold" font-size="16.0" text-anchor="middle">0</text>
<text x="141.62" y="378.60" font-family='"Liberation Sans", Arial, sans-serif' font-weight="bold" font-size="16.0" text-anchor="middle">25</text>
<text x="207.70" y="378.60" font-family='"Liberation Sans", Arial, sans-serif' font-weight="bold" font-size="16.0" text-anchor="middle">50</text>
<text x="273.77" y="378.60" font-family='"Liberation Sans", Arial, sans-serif' font-weight="bold" font-size="16.0" text-anchor="middle">75</text>
<text x="339.85" y="378.60" font-family='"Liberation Sans", Arial, sans-serif' font-weight="bold" font-size="16.0" text-anchor="middle">100</text>
<text x="405.93" y="378.60" font-family='"Liberation Sans", Arial, sans-serif' font-weight="bold" font-size="16.0" text-anchor="middle">125</text>
<text x="472.00" y="378.60" font-family='"Liberation Sans", Arial, sans-serif' font-weight="bold" font-size="16.0" text-anchor="middle">150</text>
<text x="286.40" y="407.30" font-family='"Liberation Sans", Arial, sans-serif' font-weight="bold" font-size="15.5" text-anchor="middle">t/s</text>
<text transform="translate(18.80,178.60) rotate(-90)" font-family='"Liberation Sans", Arial, sans-serif' font-weight="bold" font-size="16.6" text-anchor="middle">I/<tspan font-size="13.2">μ</tspan>A</text>
<text x="481.50" y="316.70" font-family='"Liberation Sans", Arial, sans-serif' font-weight="bold" font-size="16.0" text-anchor="middle">6</text>
<text x="484.00" y="350.50" font-family='"Liberation Sans", Arial, sans-serif' font-weight="bold" font-size="16.0" text-anchor="middle">1</text>
<text x="274.50" y="459.00" font-family='"Liberation Serif", "Times New Roman", serif' font-weight="bold" font-size="22" text-anchor="middle">a)</text>
<rect x="75.7" y="519.8" width="422.3" height="341.4000000000001" fill="none" stroke="#111" stroke-width="1.5"/>
<path d="M68.50,861.20H75.70M71.70,832.74H75.70M68.50,804.29H75.70M71.70,775.83H75.70M68.50,747.37H75.70M71.70,718.91H75.70M68.50,690.46H75.70M71.70,662.00H75.70M68.50,633.54H75.70M71.70,605.08H75.70M68.50,576.62H75.70M71.70,548.17H75.70M68.50,519.71H75.70M75.65,861.20V865.20M117.90,861.20V868.40M160.15,861.20V865.20M202.40,861.20V868.40M244.65,861.20V865.20M286.90,861.20V868.40M329.15,861.20V865.20M371.40,861.20V868.40M413.65,861.20V865.20M455.90,861.20V868.40M498.15,861.20V865.20" stroke="#111" stroke-width="1.5" fill="none"/>
<rect x="114.60" y="832.00" width="6.6" height="6.6" fill="#000"/>
<rect x="156.85" y="796.00" width="6.6" height="6.6" fill="#000"/>
<rect x="199.10" y="760.40" width="6.6" height="6.6" fill="#000"/>
<rect x="283.60" y="689.50" width="6.6" height="6.6" fill="#000"/>
<rect x="368.10" y="618.20" width="6.6" height="6.6" fill="#000"/>
<rect x="452.60" y="574.00" width="6.6" height="6.6" fill="#000"/>
<path d="M83.59,857.52L490.12,539.54" stroke="#f00" stroke-width="1.85" fill="none"/>
<text x="63.60" y="865.70" font-family='"Liberation Sans", Arial, sans-serif' font-weight="bold" font-size="16.0" text-anchor="end">0.00</text>
<text x="63.60" y="808.79" font-family='"Liberation Sans", Arial, sans-serif' font-weight="bold" font-size="16.0" text-anchor="end">0.05</text>
<text x="63.60" y="751.87" font-family='"Liberation Sans", Arial, sans-serif' font-weight="bold" font-size="16.0" text-anchor="end">0.10</text>
<text x="63.60" y="694.96" font-family='"Liberation Sans", Arial, sans-serif' font-weight="bold" font-size="16.0" text-anchor="end">0.15</text>
<text x="63.60" y="638.04" font-family='"Liberation Sans", Arial, sans-serif' font-weight="bold" font-size="16.0" text-anchor="end">0.20</text>
<text x="63.60" y="581.12" font-family='"Liberation Sans", Arial, sans-serif' font-weight="bold" font-size="16.0" text-anchor="end">0.25</text>
<text x="63.60" y="524.21" font-family='"Liberation Sans", Arial, sans-serif' font-weight="bold" font-size="16.0" text-anchor="end">0.30</text>
<text x="117.90" y="885.60" font-family='"Liberation Sans", Arial, sans-serif' font-weight="bold" font-size="16.0" text-anchor="middle">0.00</text>
<text x="202.40" y="885.60" font-family='"Liberation Sans", Arial, sans-serif' font-weight="bold" font-size="16.0" text-anchor="middle">0.02</text>
<text x="286.90" y="885.60" font-family='"Liberation Sans", Arial, sans-serif' font-weight="bold" font-size="16.0" text-anchor="middle">0.04</text>
<text x="371.40" y="885.60" font-family='"Liberation Sans", Arial, sans-serif' font-weight="bold" font-size="16.0" text-anchor="middle">0.06</text>
<text x="455.90" y="885.60" font-family='"Liberation Sans", Arial, sans-serif' font-weight="bold" font-size="16.0" text-anchor="middle">0.08</text>
<text x="102.00" y="552.80" font-family='"Liberation Sans", Arial, sans-serif' font-weight="bold" font-size="16.0" text-anchor="start">Y=2.90316X+0.02681</text>
<text x="105.00" y="580.80" font-family='"Liberation Sans", Arial, sans-serif' font-weight="bold" font-size="16.0" text-anchor="start">R<tspan font-size="8.4" dx="-0.3" dy="-8.7">2</tspan><tspan dx="0.1" dy="8.7">=0.9943</tspan></text>
<text transform="translate(20.60,701.70) rotate(-90)" font-family='"Liberation Sans", Arial, sans-serif' font-weight="bold" font-size="16.5" text-anchor="middle">I<tspan font-weight="normal">/<tspan font-size="13.2">μ</tspan></tspan>A</text>
<text x="287.00" y="914.70" font-family='"Liberation Sans", Arial, sans-serif' font-weight="bold" font-size="16.1" text-anchor="middle">concentration/ mM</text>
<text x="274.70" y="989.30" font-family='"Liberation Serif", "Times New Roman", serif' font-weight="bold" font-size="22" text-anchor="middle">b)</text></svg>
</body></html>
